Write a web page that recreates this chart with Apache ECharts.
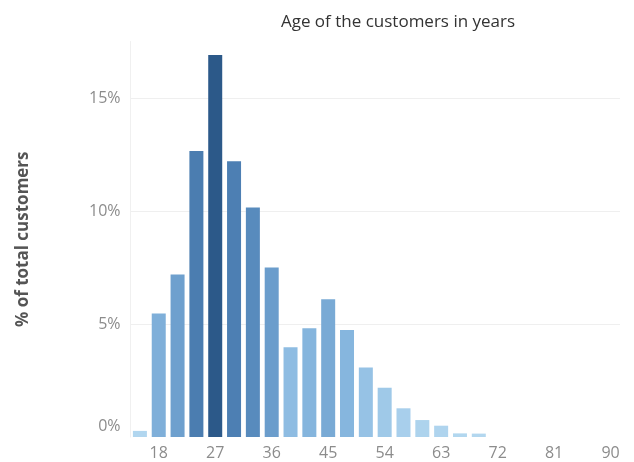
<!DOCTYPE html>
<html>
<head>
<meta charset="utf-8">
<script src="https://cdn.jsdelivr.net/npm/echarts@6/dist/echarts.min.js"></script>
<style>html,body{margin:0;padding:0;background:#fff}#c{width:634px;height:462px}</style>
</head>
<body>
<div id="c"></div>
<script>
const ageBins = ['15','18','21','24','27','30','33','36','39','42','45','48','51','54','57','60','63','66','69','72','75','78','81','84','87','90'];
const pctCustomers = [0.27,5.46,7.19,12.65,16.9,12.2,10.15,7.5,3.97,4.81,6.09,4.73,3.08,2.18,1.27,0.75,0.5,0.16,0.15,0,0,0,0,0,0,0];
const yTicks = [0,5,10,15];
const shownAges = ['18','27','36','45','54','63','72','81','90'];

const chart = echarts.init(document.getElementById('c'));
chart.setOption({
  animation: false,
  title: {
    text: 'Age of the customers in years',
    left: 393, top: 9, textAlign: 'center',
    textStyle: {fontFamily: 'Open Sans', fontSize: 17, fontWeight: 'normal', color: '#333'}
  },
  grid: {left: 130.5, right: 14, top: 41.5, bottom: 25},
  visualMap: {
    show: false, min: 0, max: 17, dimension: 1,
    inRange: {color: ['#b4d8f0', '#8bbae1', '#6194c5', '#4a7cb0', '#2b5888']}
  },
  xAxis: {
    type: 'category',
    data: ageBins,
    axisLine: {show: false},
    axisTick: {show: false},
    axisLabel: {
      interval: 0, margin: 8,
      color: '#8c8c8c', fontSize: 16, fontFamily: 'Open Sans',
      formatter: v => shownAges.includes(v) ? v : ''
    }
  },
  yAxis: {
    type: 'value', min: 0, max: 17.5, interval: 5,
    name: '% of total customers',
    nameLocation: 'middle', nameGap: 99, nameRotate: 90,
    nameTextStyle: {fontFamily: 'Open Sans', fontSize: 17, fontWeight: 'bold', color: '#555'},
    axisLine: {show: true, lineStyle: {color: '#f0f0f0'}},
    axisTick: {show: false},
    splitLine: {lineStyle: {color: ['transparent', '#efefef', '#efefef', '#efefef', 'transparent']}},
    axisLabel: {
      margin: 10, color: '#8c8c8c', fontSize: 16, fontFamily: 'Open Sans',
      formatter: v => yTicks.includes(v) ? (v === 0 ? '{z|0%}' : v + '%') : '',
      rich: {z: {fontSize: 16, fontFamily: 'Open Sans', color: '#8c8c8c', padding: [0, 0, 22, 0]}}
    }
  },
  series: [{
    type: 'bar',
    data: pctCustomers,
    barWidth: 14
  }]
});
</script>
</body>
</html>
